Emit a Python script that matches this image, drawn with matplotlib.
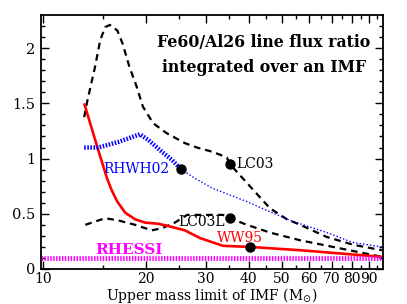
import matplotlib
matplotlib.use("Agg")
import matplotlib.pyplot as plt
from matplotlib.ticker import FixedLocator, FixedFormatter, NullFormatter

plt.rcParams['font.family'] = ['DejaVu Serif']

# LC03 (upper dashed)
lc03_x = [13.2, 13.5, 14.2, 14.7, 15.2, 15.7, 16.5, 17.1, 17.9, 18.8, 19.6, 21.0, 23.0, 26.0, 28.2, 31.4, 34.5, 35.2,
          36.9, 41.1, 46.1, 51.7, 56.5, 67.6, 80.6, 98.0]
lc03_y = [1.375, 1.53, 1.83, 2.07, 2.19, 2.21, 2.16, 2.04, 1.83, 1.65, 1.47, 1.32, 1.23, 1.14, 1.10, 1.06, 1.01, 0.95,
          0.88, 0.72, 0.55, 0.45, 0.40, 0.29, 0.22, 0.17]
# LC03L (lower dashed)
lc03l_x = [13.3, 15.2, 16.6, 18.6, 20.8, 22.3, 24.3, 26.4, 33.6, 35.2, 39.5, 46.1, 56.5, 70.5, 98.0]
lc03l_y = [0.40, 0.46, 0.44, 0.40, 0.35, 0.37, 0.42, 0.49, 0.49, 0.46, 0.40, 0.33, 0.26, 0.20, 0.11]
# WW95 (red solid)
ww95_x = [13.2, 14.5, 15.4, 15.9, 16.5, 17.4, 18.6, 19.9, 21.7, 23.2, 26.0, 28.8, 33.6, 40.3, 56.5, 98.0]
ww95_y = [1.50, 1.08, 0.82, 0.71, 0.61, 0.51, 0.45, 0.42, 0.41, 0.39, 0.35, 0.28, 0.21, 0.20, 0.17, 0.11]
# RHWH02 (blue dotted)
rhwh_x = [13.2, 14.5, 16.6, 19.2, 20.3, 22.3, 23.8, 25.3, 28.2, 31.4, 35.2, 39.5, 45.2, 52.8, 67.6, 80.6, 98.0]
rhwh_y = [1.10, 1.10, 1.15, 1.22, 1.17, 1.06, 0.99, 0.905, 0.81, 0.73, 0.67, 0.61, 0.53, 0.44, 0.33, 0.24, 0.20]
# RHESSI measurement
rhessi_y = 0.10
# model points
pts_x = [25.3, 35.2, 35.2, 40.3]
pts_y = [0.905, 0.95, 0.46, 0.20]

xmajor = [10, 20, 30, 40, 50, 60, 70, 80, 90]
xmajor_labels = ['10', '20', '30', '40', '50', '60', '70', '80', '90']
xminor = [15, 25, 35, 45, 55, 65, 75, 85, 95]

fig = plt.figure(figsize=(4.07, 3.04), dpi=100)
ax = fig.add_axes([41/407, 1-269/304, (383-41)/407, (269-15)/304])
ax.set_xscale('log')
ax.set_xlim(9.87, 98.7)
ax.set_ylim(0, 2.3)

dash = (0, (3.0, 2.2))
ax.plot(lc03_x, lc03_y, color='black', lw=1.6, linestyle=dash)
ax.plot(lc03l_x, lc03l_y, color='black', lw=1.6, linestyle=dash)
ax.plot(ww95_x, ww95_y, color='red', lw=1.9, solid_capstyle='butt')
k = rhwh_x.index(25.3)
ax.plot(rhwh_x[:k+1], rhwh_y[:k+1], color='blue', lw=3.2, linestyle=(0, (0.35, 0.35)))
ax.plot(rhwh_x[k:], rhwh_y[k:], color='blue', lw=1.0, linestyle=(0, (1, 1.5)))
ax.axhline(rhessi_y, color='magenta', lw=3.5, linestyle=(0, (0.3, 0.3)))
ax.plot(pts_x, pts_y, 'o', color='black', ms=6.5, zorder=5)

ax.text(23.5, 0.905, 'RHWH02', color='blue', fontsize=10, ha='right', va='center')
ax.text(36.8, 0.95, 'LC03', color='black', fontsize=10, ha='left', va='center')
ax.text(34.0, 0.425, 'LC03L', color='black', fontsize=10, ha='right', va='center')
ax.text(37.7, 0.28, 'WW95', color='red', fontsize=10, ha='center', va='center')
ax.text(14.2, 0.17, 'RHESSI', color='magenta', fontsize=11, fontweight='bold', ha='left', va='center')
ax.text(0.651, 0.89, 'Fe60/Al26 line flux ratio', transform=ax.transAxes, fontsize=11.3,
        fontweight='bold', ha='center', va='center')
ax.text(0.651, 0.795, 'integrated over an IMF', transform=ax.transAxes, fontsize=11.3,
        fontweight='bold', ha='center', va='center')

ax.xaxis.set_major_locator(FixedLocator(xmajor))
ax.xaxis.set_major_formatter(FixedFormatter(xmajor_labels))
ax.xaxis.set_minor_locator(FixedLocator(xminor))
ax.xaxis.set_minor_formatter(NullFormatter())
ax.set_yticks([0, 0.5, 1, 1.5, 2])
ax.set_yticklabels(['0', '0.5', '1', '1.5', '2'])
ax.set_yticks([i/10 for i in range(0, 23)], minor=True)
ax.tick_params(which='both', direction='in', top=True, right=True, labelsize=10.5, width=1)
ax.tick_params(axis='x', which='both', labelsize=10)
ax.tick_params(which='major', length=5.5, pad=2)
ax.tick_params(which='minor', length=3)
ax.tick_params(axis='y', which='major', pad=4)
for s in ax.spines.values():
    s.set_linewidth(1.3)

ax.set_xlabel(r'Upper mass limit of IMF (M$_{\odot}$)', fontsize=10, labelpad=0)

fig.savefig('out.png', dpi=100)
